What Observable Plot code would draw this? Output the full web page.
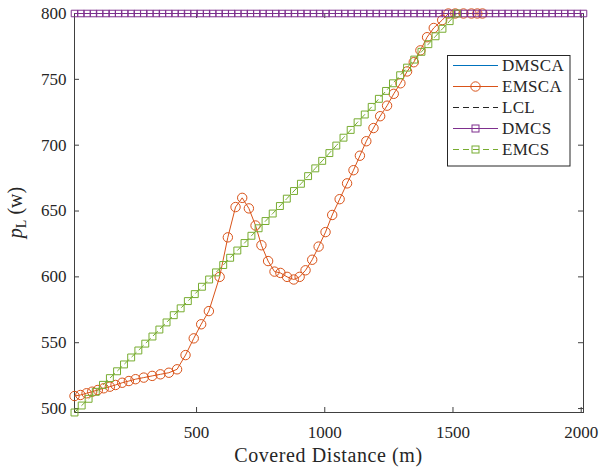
<!DOCTYPE html>
<html><head><meta charset="utf-8">
<script src="https://cdn.jsdelivr.net/npm/d3@7"></script>
<script src="https://cdn.jsdelivr.net/npm/@observablehq/plot@0.6"></script>
<style>
body{margin:0;background:#fff;}
#wrap{position:relative;width:612px;height:470px;}
</style>
</head><body><div id="wrap"></div>
<script>
// ---- data ----
const seriesNames = ["DMSCA", "EMSCA", "LCL", "DMCS", "EMCS"];
const xTicks = [500, 1000, 1500, 2000];
const yTicks = [500, 550, 600, 650, 700, 750, 800];

// common grid for the flat series (DMSCA, LCL, DMCS)
const gridX = [24,49,73,98,122,147,171,196,220,245,269,294,318,343,367,392,416,441,465,490,
  514,539,563,588,612,637,661,686,710,735,759,784,809,833,858,882,907,931,956,980,
  1005,1029,1054,1078,1103,1127,1152,1176,1201,1225,1250,1274,1299,1323,1348,1372,1397,1421,1446,1470,
  1495,1519,1544,1568,1593,1617,1642,1666,1691,1715,1740,1764,1789,1813,1838,1862,1887,1911,1936,1960,
  1985,2009];
const dmscaLevel = 800;
const lclLevel = 800;
const dmcsLevel = 800;

const emscaX = [24,47,71,93,115,138,162,184,210,236,262,294,327,359,392,424,457,489,518,548,
  590,622,652,678,704,730,753,779,804,827,853,879,902,925,951,976,1003,1029,1058,1087,
  1112,1137,1162,1190,1216,1243,1269,1295,1321,1347,1373,1399,1425,1458,1482,1509,1541,1572,1595,1615];
const emscaY = [509.5,510.3,511.6,512.8,514.1,515.4,516.6,517.9,519.6,520.9,522.3,523.5,524.8,526.0,527.2,529.8,540.6,553.3,564,574,
  600,630,653,660,652,639,624,612,604,603,600,598,600,605,613,623,634,647,659,671,
  681,692,703,713,722,730,739,747,756,763,772,782,789,795,800,800,800,800,800,800];

const emcsX = [24,52,79,107,135,162,190,217,245,273,300,328,355,383,411,438,466,493,521,549,
  576,604,631,659,687,714,742,769,797,825,852,880,907,935,963,990,1018,1045,1073,1101,
  1128,1156,1183,1211,1239,1266,1294,1321,1349,1377,1404,1432,1459,1487,1515];
const emcsY = [497,502.3,507.4,512.7,518.0,523.1,528.3,533.5,538.8,544.1,549.3,554.7,560.0,565.4,570.9,576.1,581.6,586.9,592.5,598.0,
  603.4,609.0,614.5,620.0,625.7,631.2,636.9,642.4,648.1,653.8,659.4,665.2,670.7,676.5,682.4,688.1,694.0,699.7,705.7,711.6,
  717.4,723.3,729.1,735.2,741.2,747.0,753.1,758.9,765.0,770.9,776.7,782.7,788.4,794.2,800];

// ---- tables ----
const dmsca = gridX.map(x => ({x, y: dmscaLevel}));
const lcl = gridX.map(x => ({x, y: lclLevel}));
const dmcs = gridX.map(x => ({x, y: dmcsLevel}));
const emsca = emscaX.map((x, i) => ({x, y: emscaY[i]}));
const emcs = emcsX.map((x, i) => ({x, y: emcsY[i]}));

const colors = {DMSCA: "#0072BD", EMSCA: "#D95319", LCL: "#262626", DMCS: "#7E2F8E", EMCS: "#77AC30"};
const W = 612, H = 470;
const mL = 74, mR = 29, mT = 13, mB = 58;
const innerW = W - mL - mR, innerH = H - mT - mB;
const tickLen = 5;
const axisColor = "#404040";

const chart = Plot.plot({
  width: W, height: H,
  marginLeft: mL, marginRight: mR, marginTop: mT, marginBottom: mB,
  x: {domain: [24, 2009]},
  y: {domain: [497, 800]},
  style: {fontFamily: "'Liberation Serif', serif", fontSize: "17px", color: "#262626", background: "white", overflow: "visible"},
  marks: [
    Plot.axisX({ticks: xTicks, tickSize: 0, tickPadding: 13, tickFormat: d => String(d), label: null}),
    Plot.axisY({ticks: yTicks, tickSize: 0, tickPadding: 8, tickFormat: d => String(d), label: null}),
    Plot.tickX(xTicks, {x: d => d, insetTop: innerH - tickLen, stroke: axisColor}),
    Plot.tickX(xTicks, {x: d => d, insetBottom: innerH - tickLen, stroke: axisColor}),
    Plot.tickY(yTicks, {y: d => d, insetRight: innerW - tickLen, stroke: axisColor}),
    Plot.tickY(yTicks, {y: d => d, insetLeft: innerW - tickLen, stroke: axisColor}),
    Plot.frame({stroke: axisColor, strokeWidth: 1}),
    Plot.line(dmsca, {x: "x", y: "y", stroke: colors.DMSCA, strokeWidth: 1}),
    Plot.line(emsca, {x: "x", y: "y", stroke: colors.EMSCA, strokeWidth: 1}),
    Plot.dot(emsca, {x: "x", y: "y", r: 4.7, stroke: colors.EMSCA, fill: "none", strokeWidth: 1}),
    Plot.line(lcl, {x: "x", y: "y", stroke: colors.LCL, strokeWidth: 1, strokeDasharray: "6,4"}),
    Plot.line(dmcs, {x: "x", y: "y", stroke: colors.DMCS, strokeWidth: 1}),
    Plot.dot(dmcs, {x: "x", y: "y", symbol: "square", r: 3.7, stroke: colors.DMCS, fill: "none", strokeWidth: 1}),
    Plot.line(emcs, {x: "x", y: "y", stroke: colors.EMCS, strokeWidth: 1, strokeDasharray: "6,4"}),
    Plot.dot(emcs, {x: "x", y: "y", symbol: "square", r: 3.9, stroke: colors.EMCS, fill: "none", strokeWidth: 1})
  ]
});
document.getElementById("wrap").appendChild(chart);

// axis titles
const svg = d3.select(chart);
svg.append("text")
  .attr("x", mL + innerW / 2).attr("y", 462)
  .attr("text-anchor", "middle")
  .style("font-family", "'Liberation Serif', serif").style("font-size", "20px")
  .style("letter-spacing", "0.6px").attr("fill", "#262626")
  .text("Covered Distance (m)");
const yl = svg.append("text")
  .attr("transform", `translate(22,${mT + innerH / 2}) rotate(-90)`)
  .attr("text-anchor", "middle")
  .style("font-family", "'Liberation Serif', serif").style("font-size", "20px").attr("fill", "#262626");
yl.append("tspan").style("font-style", "italic").text("p");
yl.append("tspan").attr("dy", 4).style("font-size", "14px").text("L");
yl.append("tspan").attr("dy", -4).text(" (w)");

// legend overlay
const leg = d3.select("#wrap").append("svg")
  .attr("width", W).attr("height", H)
  .style("position", "absolute").style("left", 0).style("top", 0);
const lx = 447.5, ly = 55.5, lw = 122.5, lh = 110.5;
leg.append("rect").attr("x", lx).attr("y", ly).attr("width", lw).attr("height", lh)
  .attr("fill", "white").attr("stroke", "#262626").attr("stroke-width", 1);
const rowY = [65.5, 86.5, 107.5, 128.5, 149.5];
const styles = {
  DMSCA: {dash: null, marker: null},
  EMSCA: {dash: null, marker: "circle"},
  LCL: {dash: "6,4", marker: null},
  DMCS: {dash: null, marker: "square"},
  EMCS: {dash: "6,4", marker: "square"}
};
seriesNames.forEach((name, i) => {
  const y = rowY[i], c = colors[name], s = styles[name];
  leg.append("line").attr("x1", 453).attr("x2", 498).attr("y1", y).attr("y2", y)
    .attr("stroke", c).attr("stroke-width", 1).attr("stroke-dasharray", s.dash);
  if (s.marker === "circle") {
    leg.append("circle").attr("cx", 475.5).attr("cy", y).attr("r", 4.7).attr("fill", "none").attr("stroke", c);
  } else if (s.marker === "square") {
    leg.append("rect").attr("x", 472).attr("y", y - 3.5).attr("width", 7).attr("height", 7).attr("fill", "none").attr("stroke", c);
  }
  leg.append("text").attr("x", 502).attr("y", y).attr("dy", "0.35em")
    .style("font-family", "'Liberation Serif', serif").style("font-size", "17px")
    .style("letter-spacing", "0.3px").attr("fill", "#262626").text(name);
});
</script>
</body></html>
